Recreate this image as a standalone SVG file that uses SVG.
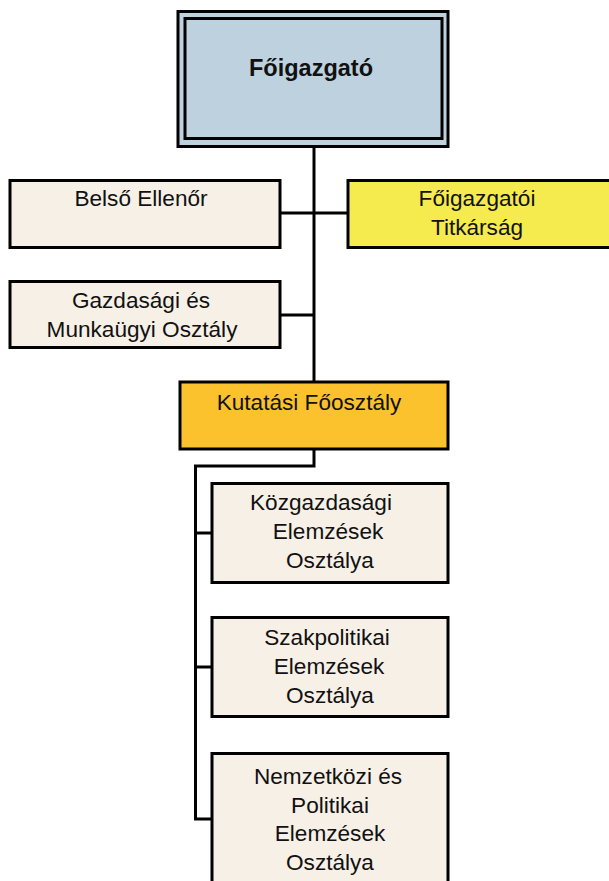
<svg xmlns="http://www.w3.org/2000/svg" width="609" height="881" viewBox="0 0 609 881">
<style>
.box{stroke:#000;stroke-width:3}
.beige{fill:#f7f0e7}
.t{font-family:"Liberation Sans",Arial,sans-serif;font-size:22.6px;fill:#111;text-anchor:middle}
.b{font-weight:bold;font-size:23.5px}
.c{fill:none;stroke:#000;stroke-width:3}
</style>
<rect width="609" height="881" fill="#fff"/>
<g id="connectors">
<path class="c" d="M314,147 V382"/>
<path class="c" d="M280,213 H348"/>
<path class="c" d="M280,315 H314"/>
<path class="c" d="M314,449 V466 H195.5 V819 H212"/>
<path class="c" d="M195.5,533 H212"/>
<path class="c" d="M195.5,667 H212"/>
</g>
<g id="foigazgato">
<rect x="178" y="11.5" width="270" height="135" fill="#bdd1df" class="box"/>
<rect x="185" y="18.5" width="257" height="120" fill="#bdd1df" class="box"/>
<text class="t b" x="311" y="76">Főigazgató</text>
</g>
<g id="belso-ellenor">
<rect x="10" y="180.5" width="270" height="67" class="box beige"/>
<text class="t" x="141" y="206">Belső Ellenőr</text>
</g>
<g id="titkarsag">
<rect x="348" y="180.5" width="265" height="67" fill="#f5eb4e" class="box"/>
<text class="t" x="477" y="206">Főigazgatói</text>
<text class="t" x="477" y="235">Titkárság</text>
</g>
<g id="gazdasagi">
<rect x="10" y="281.5" width="270" height="66" class="box beige"/>
<text class="t" x="141" y="308">Gazdasági és</text>
<text class="t" x="142" y="337">Munkaügyi Osztály</text>
</g>
<g id="kutatasi">
<rect x="180" y="382" width="268" height="67" fill="#fbc22e" class="box"/>
<text class="t" x="309" y="410">Kutatási Főosztály</text>
</g>
<g id="kozgazdasagi">
<rect x="212" y="483.5" width="236" height="99" class="box beige"/>
<text class="t" x="321" y="510">Közgazdasági</text>
<text class="t" x="328" y="539">Elemzések</text>
<text class="t" x="330" y="568">Osztálya</text>
</g>
<g id="szakpolitikai">
<rect x="212" y="617.5" width="236" height="99" class="box beige"/>
<text class="t" x="327" y="645">Szakpolitikai</text>
<text class="t" x="329" y="674">Elemzések</text>
<text class="t" x="330" y="703">Osztálya</text>
</g>
<g id="nemzetkozi">
<rect x="212" y="753.5" width="236" height="140" class="box beige"/>
<text class="t" x="328" y="784">Nemzetközi és</text>
<text class="t" x="330" y="813">Politikai</text>
<text class="t" x="330" y="841">Elemzések</text>
<text class="t" x="330" y="870">Osztálya</text>
</g>
</svg>
